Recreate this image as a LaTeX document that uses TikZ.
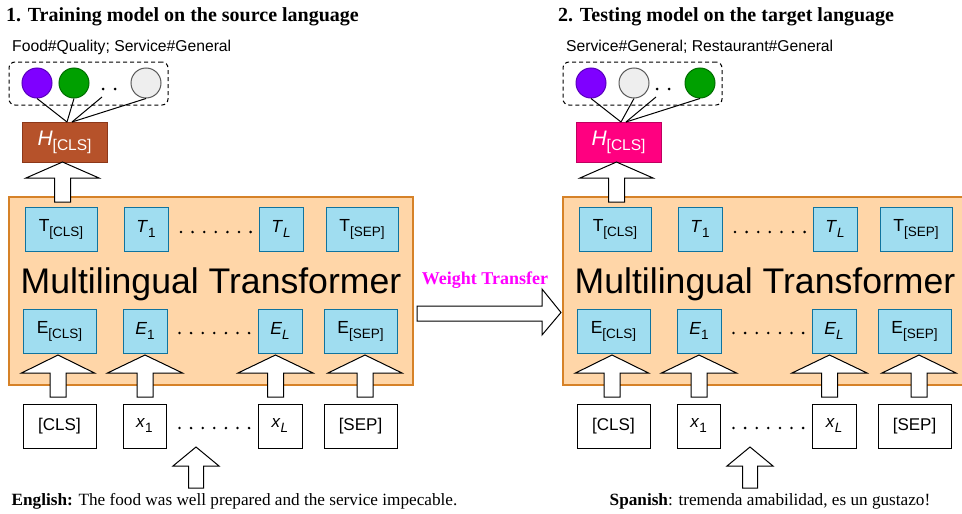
\documentclass[tikz,border=0pt]{standalone}
\usepackage{fontspec}
\setmainfont{Liberation Serif}
\setsansfont{Liberation Sans}
\newfontfamily\arial{Liberation Sans}
\definecolor{peach}{RGB}{255,214,168}
\definecolor{peachline}{RGB}{214,130,40}
\definecolor{cellfill}{RGB}{160,221,240}
\definecolor{cellline}{RGB}{16,115,158}
\definecolor{brownH}{RGB}{182,82,42}
\definecolor{brownHline}{RGB}{140,55,25}
\definecolor{pinkH}{RGB}{255,0,128}
\definecolor{pinkHline}{RGB}{190,0,95}
\definecolor{purp}{RGB}{127,0,255}
\definecolor{purpline}{RGB}{90,0,190}
\definecolor{grn}{RGB}{0,160,0}
\definecolor{grnline}{RGB}{0,110,0}
\definecolor{lgrey}{RGB}{238,238,238}
\definecolor{lgreyline}{RGB}{90,90,90}
\definecolor{wtmag}{RGB}{255,0,255}
\newcommand{\mysub}[1]{\raisebox{-5pt}{\fontsize{13.5}{13.5}\selectfont #1}}
\newcommand{\hsub}[1]{\raisebox{-5pt}{\fontsize{15.5}{15.5}\selectfont #1}}
\newcommand{\blockup}[6]{%
  \draw[blockarrow] (#1-#6,#2) -- (#1-#6,#4) -- (#1-#5,#4) -- (#1,#3) -- (#1+#5,#4) -- (#1+#6,#4) -- (#1+#6,#2) -- cycle;}
\newcommand{\dotrow}[2]{%
  \foreach \i in {0,...,6} \fill ({#1+11.6*\i},#2) circle (1.4);}
\newcommand{\panel}[6]{%
  % output group
  \node[dashbox] (grp) at (88.5,83.5) {};
  \node[circ,#3] (c1) at (37,83) {};
  \node[circ,#4] (c2) at (#6,83) {};
  \node[circ,#5] (c3) at (146,83) {};
  \node[smalldot] (d1) at (103,89) {};
  \node[smalldot] (d2) at (115,89) {};
  \coordinate (dl) at (102,97);
  \node[hbox,fill=#1,draw=#2] (H) at (64.5,142) {\textit{H}\hsub{[CLS]}};
  \coordinate (hj1) at (67,122);
  \coordinate (hj2) at (72,122);
  \draw[thin line] (c1.south) -- (hj1);
  \draw[thin line] (c2.south) -- (hj1);
  \draw[thin line] (dl) -- (hj2);
  \draw[thin line] (c3.south) -- (hj2);
  % transformer
  \node[tfbox] (MT) at (211,291) {};
  \node[font=\arial\fontsize{35.6}{36}\selectfont, anchor=base, inner sep=0] (MTlabel) at (211,293) {Multilingual Transformer};
  \node[cell, minimum width=72] (Tcls) at (61,229) {T\mysub{[CLS]}};
  \node[cell, minimum width=44] (T1) at (146,229) {\textit{T}\mysub{1}};
  \node[cell, minimum width=44] (TL) at (281,229) {\textit{T}\mysub{\textit{L}}};
  \node[cell, minimum width=72] (Tsep) at (362,229) {T\mysub{[SEP]}};
  \dotrow{181}{232}
  \node[cell, minimum width=73] (Ecls) at (59.5,331) {E\mysub{[CLS]}};
  \node[cell, minimum width=44] (E1) at (145,331) {\textit{E}\mysub{1}};
  \node[cell, minimum width=44] (EL) at (280,331) {\textit{E}\mysub{\textit{L}}};
  \node[cell, minimum width=73] (Esep) at (360.5,331) {E\mysub{[SEP]}};
  \dotrow{179.5}{333}
  % inputs
  \node[inbox, minimum width=73] (Icls) at (59.5,426) {[CLS]};
  \node[inbox, minimum width=43] (I1) at (144.5,426) {\textit{x}\mysub{1}};
  \node[inbox, minimum width=44] (IL) at (280,426) {\textit{x}\mysub{\textit{L}}};
  \node[inbox, minimum width=73] (Isep) at (360.5,426) {[SEP]};
  \dotrow{179.5}{428}
  % block arrows
  \blockup{62.5}{202}{162}{178}{36.5}{8}
  \blockup{58}{397}{355}{373}{36.5}{8}
  \blockup{145}{397}{355}{373}{37.5}{8}
  \blockup{275.5}{397}{355}{373}{37.5}{8}
  \blockup{365}{397}{355}{373}{37}{8}
  \blockup{196}{488}{447}{466}{23}{7.5}
}
\begin{document}
\begin{tikzpicture}[x=1pt,y=-1pt,
  dashbox/.style={draw=black, dashed, dash pattern=on 4pt off 3pt, rounded corners=6pt, line width=1pt, minimum width=159, minimum height=43, inner sep=0},
  circ/.style={circle, minimum size=30, inner sep=0, line width=1pt},
  purpc/.style={fill=purp, draw=purpline},
  grnc/.style={fill=grn, draw=grnline},
  greyc/.style={fill=lgrey, draw=lgreyline},
  smalldot/.style={circle, fill=black, minimum size=3, inner sep=0},
  thin line/.style={line width=1pt, black},
  hbox/.style={line width=1pt, minimum width=85, minimum height=40, inner sep=0, text=white, font=\arial\fontsize{21}{21}\selectfont},
  tfbox/.style={draw=peachline, fill=peach, line width=1.2pt, minimum width=404, minimum height=188, inner sep=0},
  cell/.style={draw=cellline, fill=cellfill, line width=1pt, minimum height=44, inner sep=0, font=\arial\fontsize{17.5}{17.5}\selectfont},
  inbox/.style={draw=black, fill=white, line width=1pt, minimum height=44, inner sep=0, font=\arial\fontsize{17}{17}\selectfont},
  blockarrow/.style={draw=black, fill=white, line width=1pt, line join=miter}
]
\useasboundingbox (0,0) rectangle (962,514);
\clip (0,0) rectangle (962,514);
\fill[white] (0,0) rectangle (962,514);

\begin{scope}[name prefix=L-]
  \panel{brownH}{brownHline}{purpc}{grnc}{greyc}{74}
\end{scope}
\begin{scope}[xshift=554pt, name prefix=R-]
  \panel{pinkH}{pinkHline}{purpc}{greyc}{grnc}{80}
\end{scope}

% titles and labels
\node[anchor=base west, inner sep=0, font=\bfseries\fontsize{20}{20}\selectfont] (title1) at (6,21.7) {1. Training model on the source language};
\node[anchor=base west, inner sep=0, font=\bfseries\fontsize{20}{20}\selectfont] (title2) at (558,21.7) {2. Testing model on the target language};
\node[anchor=base west, inner sep=0, font=\arial\fontsize{15.7}{16}\selectfont] (lab1) at (12,51.7) {Food\#Quality; Service\#General};
\node[anchor=base west, inner sep=0, font=\arial\fontsize{15.7}{16}\selectfont] (lab2) at (566,51.7) {Service\#General; Restaurant\#General};
\node[anchor=base, inner sep=0, font=\fontsize{17.2}{18}\selectfont] (sent1) at (234.5,505) {\textbf{English:} The food was well prepared and the service impecable.};
\node[anchor=base, inner sep=0, font=\fontsize{17.2}{18}\selectfont] (sent2) at (770,505) {\textbf{Spanish}: tremenda amabilidad, es un gustazo!};

% weight transfer
\draw[blockarrow] (417,306) -- (542,306) -- (542,289) -- (561,312.5) -- (542,335) -- (542,321) -- (417,321) -- cycle;
\node[anchor=base, inner sep=0, text=wtmag, font=\bfseries\fontsize{18}{18}\selectfont] (wt) at (485,284.3) {Weight Transfer};
\end{tikzpicture}
\end{document}
